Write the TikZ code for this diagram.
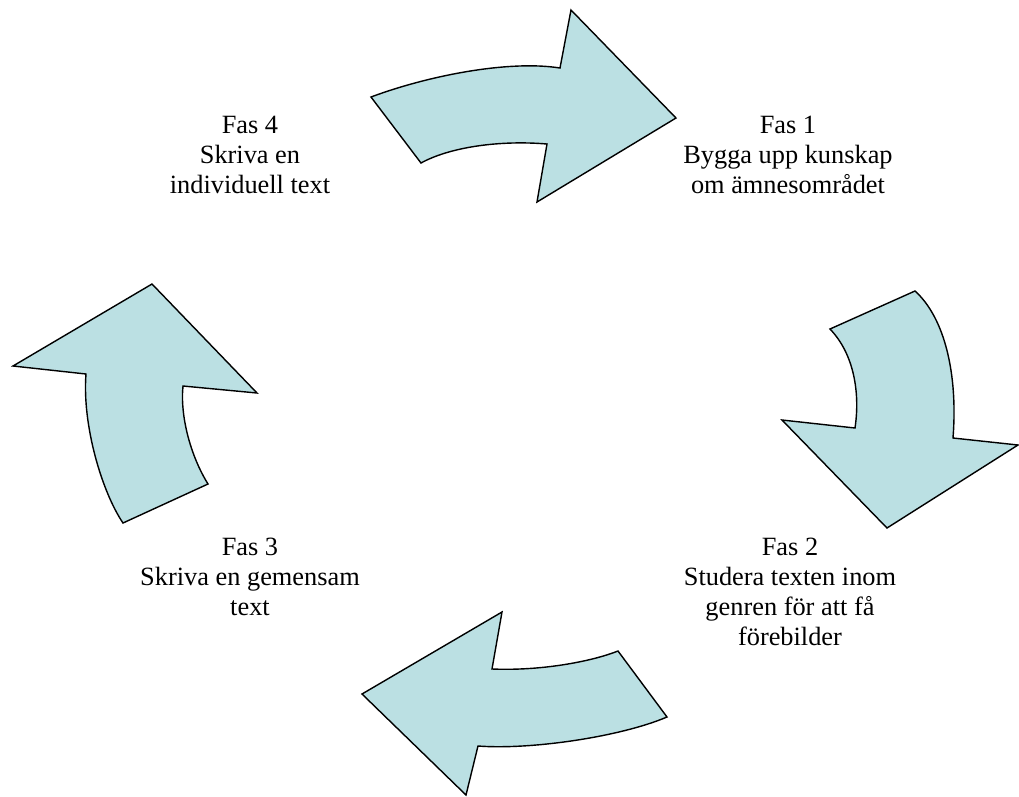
\documentclass[tikz,border=0pt]{standalone}
\usepackage{fontspec}
\setmainfont{Liberation Serif}
\usepackage{tikz}

\definecolor{pilfarg}{RGB}{187,224,227}

\begin{document}
\begin{tikzpicture}[%show background rectangle,
        x=0.02cm, y=-0.02cm,
        pil/.style={draw=black, line width=0.8pt, fill=pilfarg, line join=miter},
        fas/.style={align=center, anchor=base, inner sep=0pt,
            font=\fontsize{15}{17}\selectfont}
        ]
            \useasboundingbox (0,0) rectangle (1019,796);

            % Pilar
            \draw [pil] (371,97) .. controls (430,75) and (510,60) .. (560,68)
                        -- (571,10) -- (676,118) -- (537,202) -- (547,144)
                        .. controls (500,140) and (450,147) .. (421,163) -- cycle;

            \draw [pil] (830,329) -- (915,291)
                        .. controls (945,318) and (958,375) .. (953,438)
                        -- (1018,445) -- (887,528) -- (782,420) -- (855,428)
                        .. controls (860,395) and (855,355) .. cycle;

            \draw [pil] (502,612) -- (362,694) -- (466,795) -- (478,746)
                        .. controls (530,750) and (620,737) .. (667,717)
                        -- (618,651)
                        .. controls (590,662) and (540,671) .. (492,669) -- cycle;

            \draw [pil] (13,366) -- (152,284) -- (257,393) -- (183,386)
                        .. controls (180,415) and (190,455) .. (208,484)
                        -- (123,523)
                        .. controls (102,492) and (82,425) .. (86,374) -- cycle;

            % Faser (Ankare = Grundlinie der letzten Zeile)
            \node [fas] (fas1) at (788,193) {Fas 1\\Bygga upp kunskap\\om ämnesområdet};
            \node [fas] (fas2) at (790,645) {Fas 2\\Studera texten inom\\genren för att få\\förebilder};
            \node [fas] (fas3) at (250,615) {Fas 3\\Skriva en gemensam\\text};
            \node [fas] (fas4) at (250,193) {Fas 4\\Skriva en\\individuell text};
        \end{tikzpicture}
\end{document}
